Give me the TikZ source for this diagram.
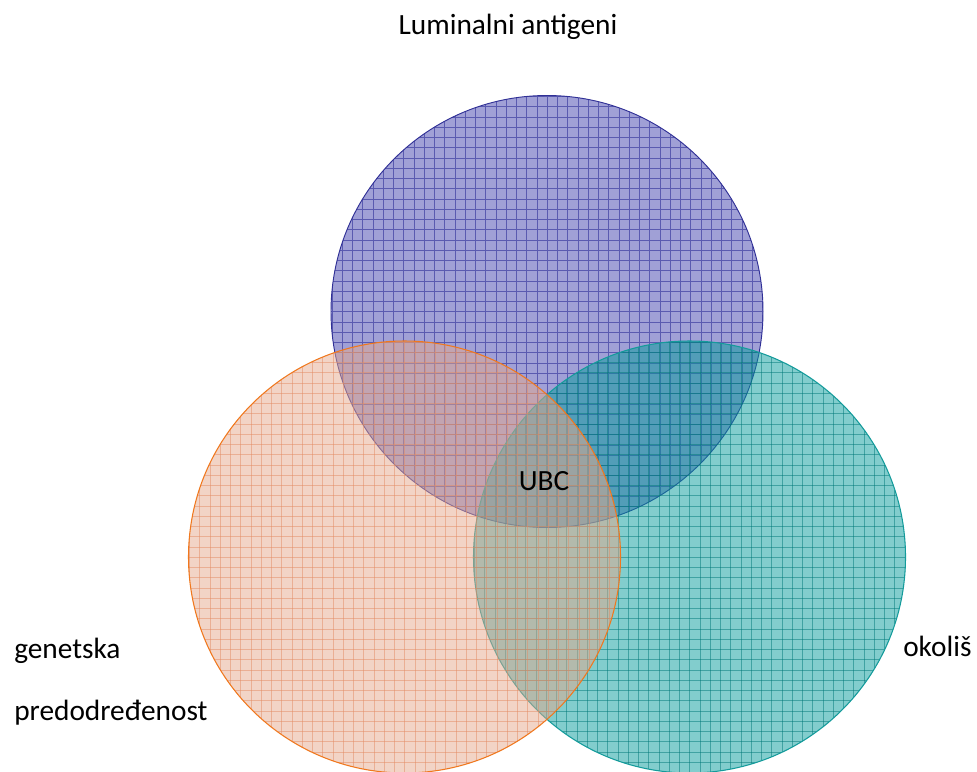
\documentclass[tikz,border=0pt]{standalone}
\usepackage{fontspec}
\setmainfont{Carlito}
\definecolor{bluefill}{RGB}{160,160,214}
\definecolor{blueline}{RGB}{90,90,176}
\definecolor{blueedge}{RGB}{48,48,150}
\definecolor{tealfill}{RGB}{5,155,155}
\definecolor{tealline}{RGB}{0,120,120}
\definecolor{tealedge}{RGB}{20,155,155}
\definecolor{orangefill}{RGB}{229,169,141}
\definecolor{orangeline}{RGB}{226,140,100}
\definecolor{orangeedge}{RGB}{240,120,30}
\begin{document}
\begin{tikzpicture}[x=0.75pt,y=-0.75pt,
  lbl/.style={font=\fontsize{22}{26}\selectfont, inner sep=0pt},
  gridln/.style={line width=0.6pt}]
\useasboundingbox (0,0) rectangle (977,771);
% blue circle
\begin{scope}[shift={(547,311.5)}]
  \begin{scope}
    \clip (0,0) circle[radius=216];
    \fill[bluefill] (0,0) circle[radius=216];
    \foreach \t in {-215,-204.75,...,216} {
      \draw[blueline, gridln] (\t,-217) -- (\t,217);
      \draw[blueline, gridln] (-217,\t) -- (217,\t);
    }
  \end{scope}
  \node[circle, minimum size=432*0.75pt, draw=blueedge, line width=0.7pt] (cblue) at (0,0) {};
\end{scope}
% teal circle
\begin{scope}[shift={(689.5,557)}]
  \begin{scope}
    \clip (0,0) circle[radius=216];
    \fill[tealfill, fill opacity=0.5] (0,0) circle[radius=216];
    \foreach \t in {-215,-204.75,...,216} {
      \draw[tealline, gridln, draw opacity=0.5] (\t,-217) -- (\t,217);
      \draw[tealline, gridln, draw opacity=0.5] (-217,\t) -- (217,\t);
    }
  \end{scope}
  \node[circle, minimum size=432*0.75pt, draw=tealedge, line width=0.8pt] (cteal) at (0,0) {};
\end{scope}
% orange circle
\begin{scope}[shift={(404.5,557)}]
  \begin{scope}
    \clip (0,0) circle[radius=216];
    \fill[orangefill, fill opacity=0.5] (0,0) circle[radius=216];
    \foreach \t in {-215,-204.75,...,216} {
      \draw[orangeline, gridln, draw opacity=0.5] (\t,-217) -- (\t,217);
      \draw[orangeline, gridln, draw opacity=0.5] (-217,\t) -- (217,\t);
    }
  \end{scope}
  \node[circle, minimum size=432*0.75pt, draw=orangeedge, line width=0.8pt] (corange) at (0,0) {};
\end{scope}
% labels
\node[lbl, anchor=base] (tlum) at (508,34) {Luminalni antigeni};
\node[lbl, anchor=base] (tubc) at (544,490) {UBC};
\node[lbl, anchor=base west] (tgen) at (14,658) {genetska};
\node[lbl, anchor=base west] (tpre) at (14,720) {predodređenost};
\node[lbl, anchor=base west] (tok) at (903,656) {okoliš};
\end{tikzpicture}
\end{document}
